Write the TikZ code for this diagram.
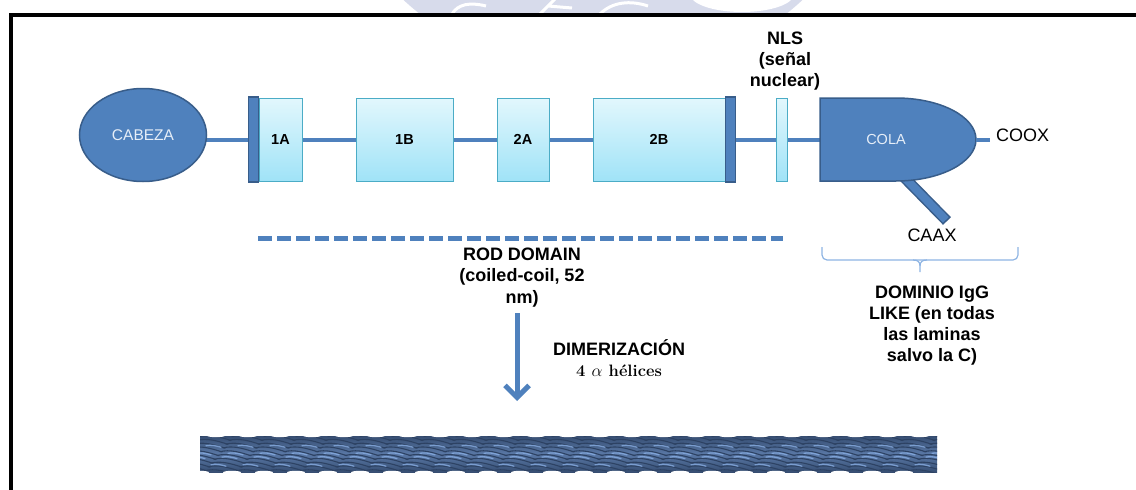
\documentclass[tikz,border=0pt]{standalone}
\usepackage{fontspec}
\newfontfamily\labelfont{Liberation Sans}
\usetikzlibrary{arrows.meta,shapes.geometric,calc}

\definecolor{mainblue}{HTML}{4F81BD}
\definecolor{darkblue}{HTML}{385D8A}
\definecolor{boxtop}{HTML}{E2F7FD}
\definecolor{boxbot}{HTML}{A0E3F7}
\definecolor{boxline}{HTML}{4BACC6}
\definecolor{bracecol}{HTML}{8EB4E3}
\definecolor{paletext}{HTML}{E6EEF8}
\definecolor{ropebase}{HTML}{4D6A96}
\definecolor{ropedark}{HTML}{2D4263}
\definecolor{ropelight}{HTML}{8CB2E8}
\definecolor{seal}{HTML}{D7DBEB}

\pgfdeclarelayer{bg}
\pgfsetlayers{bg,main}

\begin{document}
\begin{tikzpicture}[x=1pt,y=-1pt,
  lbl/.style={font=\labelfont\fontsize{18}{21}\selectfont\bfseries, align=center, inner sep=0pt},
  plain/.style={font=\labelfont\fontsize{18}{21}\selectfont, inner sep=0pt},
  segbox/.style={draw=boxline, line width=1pt, top color=boxtop, bottom color=boxbot,
    minimum height=83pt, inner sep=0pt, font=\labelfont\fontsize{14.5}{16}\selectfont\bfseries},
  capbar/.style={draw=darkblue, fill=mainblue, line width=1.2pt,
    minimum width=10pt, minimum height=85pt, inner sep=0pt},
  link/.style={mainblue, line width=4pt},
  brace/.style={bracecol, line width=1.2pt},
  ropeline/.style={ropedark, line width=1.1pt, line cap=round},
  ropeglint/.style={ropelight, line width=1.3pt, line cap=round, opacity=0.75}]

\useasboundingbox (0,0) rectangle (1136,490);

% faint seal behind the top edge
\begin{scope}
  \clip (0,0) rectangle (1136,14);
  \fill[seal] (603,-216) circle[radius=294pt];
  \fill[white] (742,-6) ellipse[x radius=52pt, y radius=18pt];
  \draw[white, line width=3pt] (452,14) .. controls (458,4) and (470,2) .. (486,6);
  \draw[white, line width=3pt] (540,14) -- (556,-2) (548,6) -- (572,8);
  \draw[white, line width=3pt] (600,14) .. controls (612,2) and (630,0) .. (648,6);
\end{scope}

% frame
\draw[line width=4pt] (11.3,500) -- (11.3,15.3) -- (1140,15.3);

% head and rod segments
\node[draw=darkblue, fill=mainblue, line width=1.5pt, ellipse, minimum width=127pt,
  minimum height=93pt, inner sep=0pt, text=paletext,
  font=\labelfont\fontsize{15.5}{17}\selectfont] (cabeza) at (143,135) {CABEZA};
\node[segbox, minimum width=43pt] (s1A) at (280.5,139.5) {1A};
\node[capbar] (capL) at (253.5,139.5) {};
\node[segbox, minimum width=97pt] (s1B) at (404.5,139.5) {1B};
\node[segbox, minimum width=52pt] (s2A) at (523,139.5) {2A};
\node[segbox, minimum width=132pt] (s2B) at (659,139.5) {2B};
\node[capbar] (capR) at (730.5,139.5) {};
\node[segbox, minimum width=11pt] (nls) at (781.5,139.5) {};

% CAAX stub under the tail
\coordinate (stubA) at (897,170);
\coordinate (stubB) at (947,221);
\draw[darkblue, line width=11pt] (stubA) -- (stubB);
\draw[mainblue, line width=8pt] (stubA) -- ($(stubB)!1.6pt!(stubA)$);

% tail
\filldraw[draw=darkblue, fill=mainblue, line width=1.5pt]
  (820,98) -- (896,98) arc[start angle=90, end angle=-90, x radius=80pt, y radius=41.5pt]
  -- (820,181) -- cycle;
\node[text=paletext, font=\labelfont\fontsize{14.5}{16}\selectfont, inner sep=0pt]
  (cola) at (886,140) {COLA};
\coordinate (colatip) at (976,139.5);

% backbone behind everything
\begin{pgfonlayer}{bg}
  \draw[link] (cabeza.center |- s1A.center) -- (s1A.center) -- (s1B.center)
    -- (s2A.center) -- (s2B.center) -- (nls.center) -- (colatip);
\end{pgfonlayer}

% labels around the tail
\node[plain, anchor=west, inner xsep=6pt] (coox) at (990,135.5) {COOX};
\draw[link] (colatip) -- (colatip -| coox.west);
\node[plain] (caax) at (932,235.5) {CAAX};
\node[lbl] (nlslabel) at (785,61) {NLS\\(señal\\nuclear)};

% rod domain marker
\coordinate (rodL) at (258,238);
\coordinate (rodR) at (783,238);
\draw[mainblue, line width=5pt, dash pattern=on 14pt off 5pt] (rodL) -- (rodR);
\node[lbl, font=\labelfont\fontsize{18}{21.5}\selectfont\bfseries] (rod) at (522,277.5)
  {ROD DOMAIN\\(coiled-coil, 52\\nm)};

% brace under the tail
\draw[brace, rounded corners=5pt] (822,247) -- (822,260) -- (1018,260) -- (1018,247);
\draw[brace] (913,260) .. controls (918,260) and (920,262) .. (920,266) -- (920,272);
\draw[brace] (927,260) .. controls (922,260) and (920,262) .. (920,266);
\node[lbl] (igg) at (932,325.5) {DOMINIO IgG\\LIKE (en todas\\las laminas\\salvo la C)};

% dimerization arrow
\coordinate (dimA) at (517,313);
\coordinate (dimB) at (517,401);
\draw[mainblue, line width=5pt, -{Straight Barb[length=12pt, width=24pt]}] (dimA) -- (dimB);
\node[lbl] (dim) at (619,348) {DIMERIZACIÓN};
\node[font=\fontsize{16.5}{18}\selectfont\bfseries, inner sep=0pt] (hel) at (619,370.5)
  {4 $\alpha$ hélices};

% coiled rope
\begin{scope}
  \clip (200,436) rectangle (937,472);
  \shade[top color=ropedark!70!ropebase, bottom color=ropedark!70!ropebase,
    middle color=ropebase!80!ropelight] (200,436) rectangle (937,472);
  \foreach \i in {-2,...,24} {
    \foreach \j in {0,...,9} {
      \pgfmathsetmacro\xa{200+32*\i-3*\j}
      \pgfmathsetmacro\ya{436.5+3.8*\j}
      \draw[ropeline] (\xa,\ya) .. controls (\xa+10,\ya-2.5) and (\xa+20,\ya+0.5) .. (\xa+31,\ya+4);
    }
    \foreach \j/\s in {2/6,4/2,5/-1,7/-6} {
      \pgfmathsetmacro\xg{200+32*\i-3*\j+\s+6}
      \pgfmathsetmacro\yg{436.5+3.8*\j+1.6}
      \draw[ropeglint] (\xg,\yg) .. controls (\xg+5,\yg-1) and (\xg+10,\yg) .. (\xg+15,\yg+1.5);
    }
  }
\end{scope}
\foreach \i in {0,...,22} {
  \fill[white] (216+32*\i,435.6) ellipse[x radius=9pt, y radius=1.6pt];
  \fill[white] (200+32*\i,472.4) ellipse[x radius=9pt, y radius=1.6pt];
}
\end{tikzpicture}
\end{document}
